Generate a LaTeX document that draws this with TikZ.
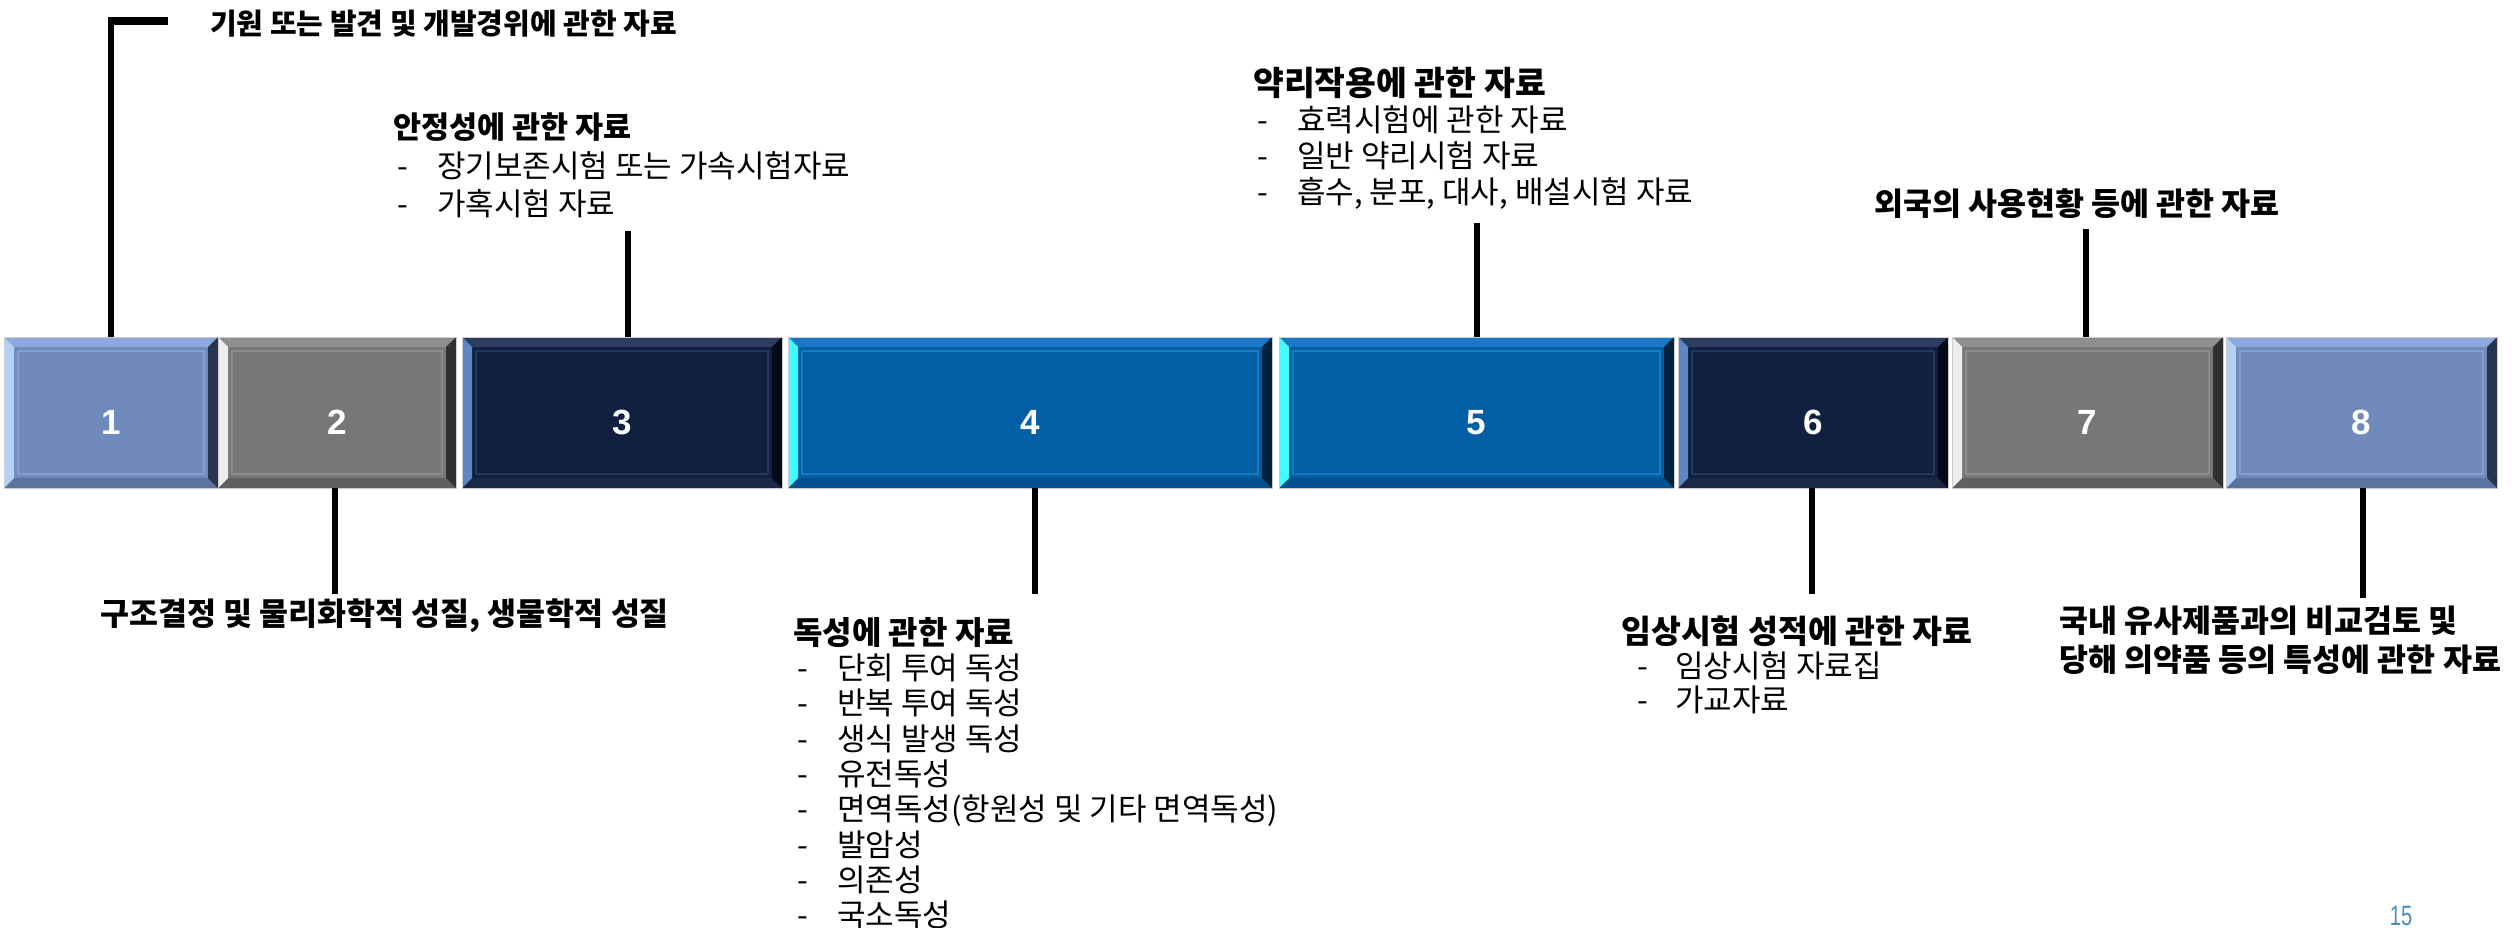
\documentclass[tikz,border=0pt]{standalone}
\usepackage{fontspec}
\usepackage{graphicx}
\setmainfont{Liberation Sans}
\newfontfamily\kr{Noto Sans CJK KR}
\usetikzlibrary{calc}
% colour sets: A = light blue, B = grey, C = navy, D = blue
\definecolor{Aface}{HTML}{6F8ABB}\definecolor{Atop}{HTML}{8DA8DC}\definecolor{Aleft}{HTML}{B4D0F7}
\definecolor{Aright}{HTML}{28354F}\definecolor{Abot}{HTML}{5A73A0}\definecolor{Ainner}{HTML}{86A0CE}
\definecolor{Bface}{HTML}{777777}\definecolor{Btop}{HTML}{8E8E8E}\definecolor{Bleft}{HTML}{EDEDED}
\definecolor{Bright}{HTML}{303030}\definecolor{Bbot}{HTML}{606060}\definecolor{Binner}{HTML}{8C8C8C}
\definecolor{Cface}{HTML}{12203F}\definecolor{Ctop}{HTML}{2D3D62}\definecolor{Cleft}{HTML}{5F85C8}
\definecolor{Cright}{HTML}{050B16}\definecolor{Cbot}{HTML}{1A2948}\definecolor{Cinner}{HTML}{26365C}
\definecolor{Dface}{HTML}{025FA4}\definecolor{Dtop}{HTML}{1979C7}\definecolor{Dleft}{HTML}{40FBFF}
\definecolor{Dright}{HTML}{00233D}\definecolor{Dbot}{HTML}{04508E}\definecolor{Dinner}{HTML}{1E7AC0}
\definecolor{pagenum}{HTML}{4A8CC4}
\newcommand\bvx{10}
\newcommand\bvy{10}
\newcommand\itemdash{\hspace*{4pt}\makebox[40pt][l]{-}}
\newcommand\itemdashb{\hspace*{16pt}\makebox[38pt][l]{-}}
\newcommand\bevelbox[5]{%
  \node[boxnode, fill=#5face, minimum width={#3-#2}] (#1) at ({(#2+#3)/2},412.5) {};
  \fill[#5top] (#1.north west) -- (#1.north east) -- ([shift={(-\bvx,\bvy)}]#1.north east) -- ([shift={(\bvx,\bvy)}]#1.north west) -- cycle;
  \fill[#5bot] (#1.south west) -- (#1.south east) -- ([shift={(-\bvx,-\bvy)}]#1.south east) -- ([shift={(\bvx,-\bvy)}]#1.south west) -- cycle;
  \fill[#5left] (#1.north west) -- ([shift={(\bvx,\bvy)}]#1.north west) -- ([shift={(\bvx,-\bvy)}]#1.south west) -- (#1.south west) -- cycle;
  \fill[#5right] (#1.north east) -- ([shift={(-\bvx,\bvy)}]#1.north east) -- ([shift={(-\bvx,-\bvy)}]#1.south east) -- (#1.south east) -- cycle;
  \draw[#5inner, line width=1.5] ([shift={(\bvx+4,\bvy+4)}]#1.north west) rectangle ([shift={(-\bvx-4,-\bvy-4)}]#1.south east);
  \draw[boxedge] (#1.north west) rectangle (#1.south east);
  \node[numtext] (#1n) at ([yshift=-10pt]#1.center) {#4};
}
\tikzset{
  boxnode/.style={rectangle, inner sep=0pt, outer sep=0pt, minimum height=151pt, draw=none},
  boxedge/.style={draw=black!20, line width=1pt},
  numtext/.style={text=white, font=\bfseries\fontsize{35}{35}\selectfont, inner sep=0pt},
  conn/.style={draw=black, line width=6pt},
  headtext/.style={font=\kr\bfseries\fontsize{31.5}{39}\selectfont, inner sep=0pt, anchor=west},
  blocktext/.style={inner sep=0pt, anchor=north west, align=left},
}
\begin{document}
\begin{tikzpicture}[x=1pt,y=-1pt]
\fill[white] (0,0) rectangle (2516,928);
\useasboundingbox (0,0) rectangle (2516,928);

\bevelbox{b1}{4}{218}{1}{A}
\bevelbox{b2}{218}{456}{2}{B}
\bevelbox{b3}{462}{782}{3}{C}
\bevelbox{b4}{788}{1272}{4}{D}
\bevelbox{b5}{1279}{1674}{5}{D}
\bevelbox{b6}{1678}{1948}{6}{C}
\bevelbox{b7}{1952}{2223}{7}{B}
\bevelbox{b8}{2226}{2497}{8}{A}

% connector end points
\coordinate (c1a) at (111,21);
\coordinate (c1b) at (168,21);
\coordinate (c2) at (335,594);
\coordinate (c3) at (628,231);
\coordinate (c4) at (1035,594);
\coordinate (c5) at (1477,223);
\coordinate (c6) at (1812,594);
\coordinate (c7) at (2086,229);
\coordinate (c8) at (2363,598);

\draw[conn] (c1a |- b1.north) -- (c1a);
\draw[conn, line width=8pt] ([xshift=-3pt]c1a) -- (c1b);
\draw[conn] (c2 |- b2.south) -- (c2);
\draw[conn] (c3 |- b3.north) -- (c3);
\draw[conn] (c4 |- b4.south) -- (c4);
\draw[conn] (c5 |- b5.north) -- (c5);
\draw[conn] (c6 |- b6.south) -- (c6);
\draw[conn] (c7 |- b7.north) -- (c7);
\draw[conn] (c8 |- b8.south) -- (c8);

% texts
\node[headtext, font=\kr\bfseries\fontsize{29}{32}\selectfont] (t1) at (210,24) {기원 또는 발견 및 개발경위에 관한 자료};
\node[headtext] (t2) at (100,616) {구조결정 및 물리화학적 성질, 생물학적 성질};
\node[blocktext, font=\kr\fontsize{31}{38.5}\selectfont] (t3) at (393,113)
  {{\bfseries\fontsize{30.5}{38.5}\selectfont 안정성에 관한 자료}\\ \itemdash 장기보존시험 또는 가속시험자료\\ \itemdash 가혹시험 자료};
\node[blocktext, font=\kr\fontsize{31}{35.3}\selectfont] (t4) at (793,617)
  {{\bfseries\fontsize{32}{35.3}\selectfont 독성에 관한 자료}\\ \itemdash 단회 투여 독성\\ \itemdash 반복 투여 독성\\ \itemdash 생식 발생 독성\\
   \itemdash 유전독성\\ \itemdash 면역독성(항원성 및 기타 면역독성)\\ \itemdash 발암성\\ \itemdash 의존성\\ \itemdash 국소독성};
\node[blocktext, font=\kr\fontsize{31}{36}\selectfont] (t5) at (1253,67)
  {{\bfseries\fontsize{33.5}{36}\selectfont 약리작용에 관한 자료}\\ \itemdash 효력시험에 관한 자료\\ \itemdash 일반 약리시험 자료\\ \itemdash 흡수, 분포, 대사, 배설시험 자료};
\node[blocktext, font=\kr\fontsize{31}{34}\selectfont] (t6) at (1621,616)
  {{\bfseries\fontsize{32.5}{34}\selectfont 임상시험 성적에 관한 자료}\\ \itemdashb 임상시험 자료집\\ \itemdashb 가교자료};
\node[headtext] (t7) at (1874,204) {외국의 사용현황 등에 관한 자료};
\node[blocktext, font=\kr\bfseries\fontsize{31.5}{39}\selectfont] (t8) at (2059,606)
  {국내 유사제품과의 비교검토 및\\ 당해 의약품 등의 특성에 관한 자료};
\node[text=pagenum, font=\fontsize{28}{28}\selectfont, inner sep=0pt] (pg) at (2401,916) {\scalebox{0.72}[1]{15}};
\end{tikzpicture}
\end{document}
